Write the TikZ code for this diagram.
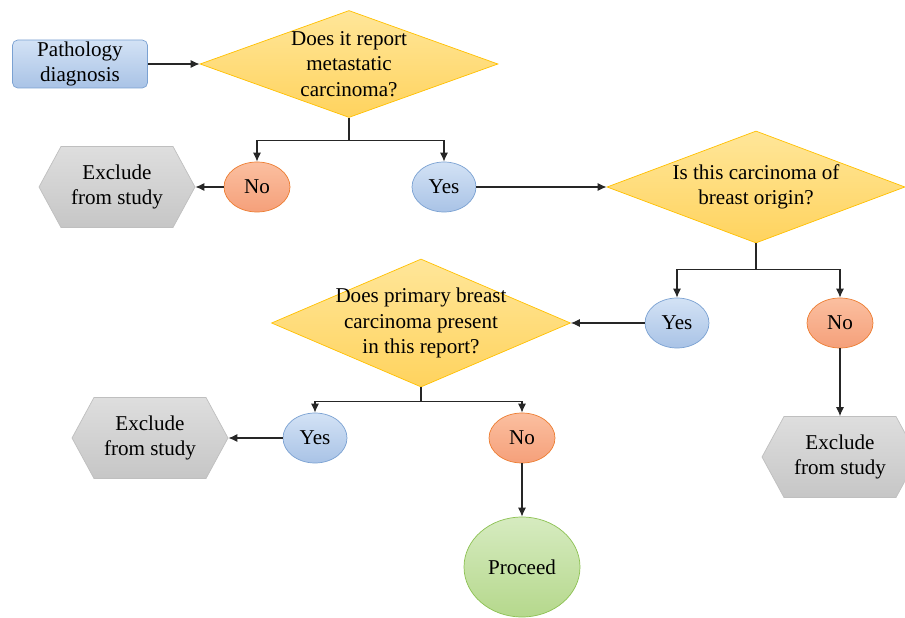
\documentclass[tikz,border=0pt]{standalone}
\usepackage{fontspec}
\setmainfont{Liberation Serif}
\usepackage{tikz}
\usetikzlibrary{arrows.meta, positioning, shapes.geometric, shapes.symbols}

\definecolor{bluetop}{HTML}{D3E2F5}
\definecolor{bluebot}{HTML}{A9C3E6}
\definecolor{blueline}{HTML}{7AA1D2}
\definecolor{orangetop}{HTML}{FBBFA0}
\definecolor{orangebot}{HTML}{F5A07A}
\definecolor{orangeline}{HTML}{ED7D31}
\definecolor{yellowtop}{HTML}{FFE699}
\definecolor{yellowbot}{HTML}{FFD35E}
\definecolor{yellowline}{HTML}{FFC000}
\definecolor{graytop}{HTML}{DEDEDE}
\definecolor{graybot}{HTML}{C6C6C6}
\definecolor{grayline}{HTML}{BFBFBF}
\definecolor{greentop}{HTML}{D6EBC0}
\definecolor{greenbot}{HTML}{B5D88C}
\definecolor{greenline}{HTML}{8CC152}

\begin{document}
\begin{tikzpicture}[
        every node/.style={font=\fontsize{12}{14.4}\selectfont, align=center},
        start/.style={rectangle, draw=blueline, top color=bluetop, bottom color=bluebot, rounded corners=3pt, minimum width=2.7cm, minimum height=0.96cm, inner sep=1pt},
        decision/.style={diamond, draw=yellowline, top color=yellowtop, bottom color=yellowbot, aspect=2.6, inner sep=-6pt},
        ansyes/.style={ellipse, draw=blueline, top color=bluetop, bottom color=bluebot, minimum width=1.28cm, minimum height=1.0cm, inner sep=1pt},
        ansno/.style={ellipse, draw=orangeline, top color=orangetop, bottom color=orangebot, minimum width=1.32cm, minimum height=1.0cm, inner sep=1pt},
        exclude/.style={signal, signal to=west and east, signal pointer angle=123, draw=grayline, top color=graytop, bottom color=graybot, minimum width=3.12cm, minimum height=1.62cm, inner sep=1pt},
        proceed/.style={ellipse, draw=greenline, top color=greentop, bottom color=greenbot, minimum width=2.32cm, minimum height=2.0cm, inner sep=1pt},
        arrow/.style={draw, -{Latex[length=1.8mm, width=1.6mm]}, line width=0.6pt, color=black!85}
    ]
        \useasboundingbox (0,0) rectangle (18.1,-12.36);

        % Primera pregunta
        \node [start] (path) at (1.60,-1.28) {Pathology\\diagnosis};
        \node [decision, minimum width=5.96cm, minimum height=2.14cm] (meta) at (6.98,-1.28) {Does it report\\metastatic\\carcinoma?};
        \draw [arrow] (path) -- (meta);

        \node [ansno] (no1) at (5.14,-3.74) {No};
        \node [ansyes] (yes1) at (8.88,-3.74) {Yes};
        \node [exclude] (ex1) at (2.34,-3.74) {Exclude\\from study};

        \draw [arrow] (meta.south) -- ++(0,-0.46) -| (no1.north);
        \draw [arrow] (meta.south) -- ++(0,-0.46) -| (yes1.north);
        \draw [arrow] (no1) -- (ex1.east);

        % Segunda pregunta
        \node [decision, minimum width=5.96cm, minimum height=2.24cm] (breast) at (15.12,-3.74) {Is this carcinoma of\\breast origin?};
        \draw [arrow] (yes1) -- (breast.west);

        \node [ansyes] (yes2) at (13.54,-6.46) {Yes};
        \node [ansno] (no2) at (16.80,-6.46) {No};
        \node [exclude] (ex3) at (16.80,-9.14) {Exclude\\from study};

        \draw [arrow] (breast.south) -- ++(0,-0.52) -| (yes2.north);
        \draw [arrow] (breast.south) -- ++(0,-0.52) -| (no2.north);
        \draw [arrow] (no2) -- (ex3.north);

        % Tercera pregunta
        \node [decision, minimum width=5.98cm, minimum height=2.56cm] (primary) at (8.42,-6.46) {Does primary breast\\carcinoma present\\in this report?};
        \draw [arrow] (yes2) -- (primary.east);

        \node [ansyes] (yes3) at (6.30,-8.76) {Yes};
        \node [ansno] (no3) at (10.44,-8.76) {No};
        \node [exclude] (ex2) at (3.00,-8.76) {Exclude\\from study};
        \node [proceed] (go) at (10.44,-11.34) {Proceed};

        \draw [arrow] (primary.south) -- ++(0,-0.28) -| (yes3.north);
        \draw [arrow] (primary.south) -- ++(0,-0.28) -| (no3.north);
        \draw [arrow] (yes3) -- (ex2.east);
        \draw [arrow] (no3) -- (go);

\end{tikzpicture}
\end{document}
